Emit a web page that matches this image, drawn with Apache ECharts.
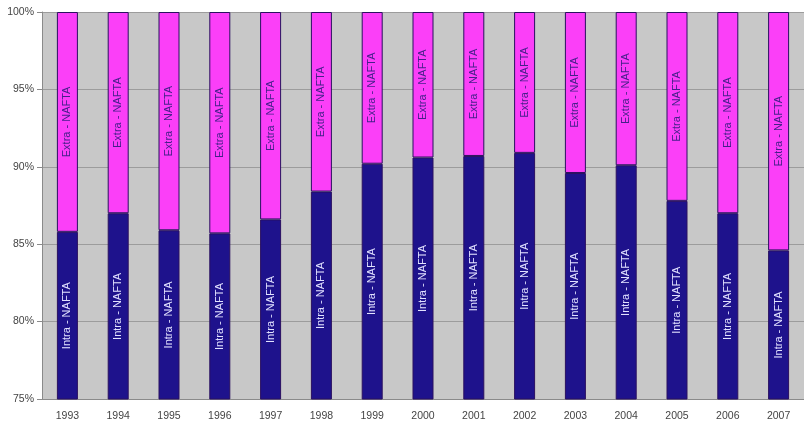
<!DOCTYPE html>
<html>
<head>
<meta charset="utf-8">
<script src="https://cdn.jsdelivr.net/npm/echarts@6/dist/echarts.min.js"></script>
<style>
  html, body { margin: 0; padding: 0; background: #ffffff; }
  #chart { width: 804px; height: 424px; }
</style>
</head>
<body>
<div id="chart"></div>
<script>
// NAFTA trade shares by year (percent of total)
const years = ['1993', '1994', '1995', '1996', '1997', '1998', '1999', '2000',
               '2001', '2002', '2003', '2004', '2005', '2006', '2007'];
const intraNafta = [85.8, 87.0, 85.9, 85.7, 86.6, 88.4, 90.2, 90.6,
                    90.7, 90.9, 89.6, 90.1, 87.8, 87.0, 84.6];
const extraNafta = [14.2, 13.0, 14.1, 14.3, 13.4, 11.6, 9.8, 9.4,
                    9.3, 9.1, 10.4, 9.9, 12.2, 13.0, 15.4];
const seriesNames = ['Intra - NAFTA', 'Extra - NAFTA'];
const yTicks = { min: 75, max: 100, step: 5 };

const chart = echarts.init(document.getElementById('chart'), null, { renderer: 'canvas' });

const labelFont = 'Liberation Sans, Arial, sans-serif';

function barSeries(name, data, fill, textColor) {
  return {
    name: name,
    type: 'bar',
    stack: 'total',
    data: data,
    barWidth: 21,
    itemStyle: { color: fill, borderColor: '#2a1060', borderWidth: 1 },
    label: {
      show: true,
      position: 'inside',
      rotate: 90,
      formatter: name,
      color: textColor,
      fontFamily: labelFont,
      fontSize: 11
    }
  };
}

chart.setOption({
  animation: false,
  backgroundColor: '#ffffff',
  grid: {
    left: 42, top: 12, width: 766, height: 387,
    show: true, backgroundColor: '#c8c8c8', borderWidth: 0
  },
  xAxis: {
    type: 'category',
    data: years,
    axisLine: { show: true, lineStyle: { color: '#8a8a8a', width: 1 } },
    axisTick: { show: false },
    axisLabel: { color: '#444444', fontFamily: labelFont, fontSize: 10.5, margin: 12 }
  },
  yAxis: {
    type: 'value',
    min: yTicks.min,
    max: yTicks.max,
    interval: yTicks.step,
    axisLine: { show: true, lineStyle: { color: '#8a8a8a', width: 1 } },
    axisTick: { show: true, length: 5, lineStyle: { color: '#8a8a8a' } },
    axisLabel: { formatter: '{value}%', color: '#444444', fontFamily: labelFont, fontSize: 10.5, margin: 8 },
    splitLine: { show: true, lineStyle: { color: '#9c9c9c', width: 1 } }
  },
  series: [
    barSeries(seriesNames[0], intraNafta, '#1e128c', '#e2e2ff'),
    barSeries(seriesNames[1], extraNafta, '#fb3ff8', '#45208a')
  ]
});
</script>
</body>
</html>
